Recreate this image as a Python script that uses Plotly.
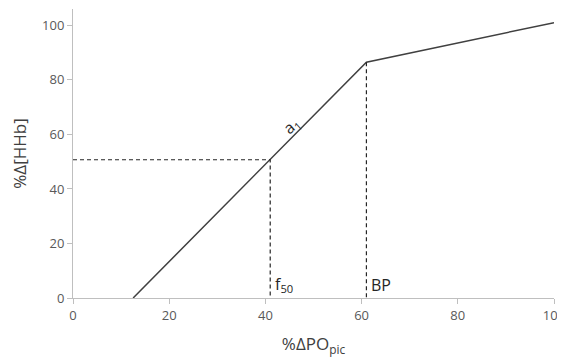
import plotly.graph_objects as go

# Piecewise-linear model
line_x = [12.5, 61, 100]
line_y = [0, 86.5, 101]

# Reference points
f50_x, f50_y = 41, 50.7
bp_x, bp_y = 61, 86.5

x_ticks = [0, 20, 40, 60, 80, 100]
y_ticks = [0, 20, 40, 60, 80, 100]

fig = go.Figure()
fig.add_trace(go.Scatter(x=line_x, y=line_y, mode="lines",
                         line=dict(color="#404040", width=1.5), hoverinfo="skip"))
# dashed guides
fig.add_trace(go.Scatter(x=[0, f50_x, f50_x], y=[f50_y, f50_y, 0], mode="lines",
                         line=dict(color="#262626", width=1.2, dash="4px,3px"), hoverinfo="skip"))
fig.add_trace(go.Scatter(x=[bp_x, bp_x], y=[bp_y, 0], mode="lines",
                         line=dict(color="#262626", width=1.2, dash="4px,3px"), hoverinfo="skip"))

font_fam = "Open Sans, Liberation Sans, sans-serif"
fig.add_annotation(x=f50_x + 0.6, y=0, text="f<sub>50</sub>", showarrow=False,
                   xanchor="left", yanchor="bottom", yshift=0,
                   font=dict(size=16, color="#262626", family=font_fam))
fig.add_annotation(x=bp_x + 0.6, y=0, text="BP", showarrow=False,
                   xanchor="left", yanchor="bottom", yshift=0,
                   font=dict(size=16, color="#262626", family=font_fam))
fig.add_annotation(x=45.5, y=63.2, text="a<sub>1</sub>", showarrow=False,
                   textangle=-42, xanchor="center", yanchor="middle",
                   font=dict(size=16, color="#262626", family=font_fam))

# note: page body adds an 8px offset, margins compensate
fig.update_layout(
    width=565, height=358,
    margin=dict(l=65, r=19, t=1, b=68, autoexpand=False),
    paper_bgcolor="white", plot_bgcolor="white",
    showlegend=False,
    font=dict(family=font_fam, color="#595959"),
    xaxis=dict(range=[0, 100], tickvals=x_ticks, showgrid=False, zeroline=False,
               automargin=False,
               showline=True, linecolor="#bfbfbf", linewidth=1,
               ticks="outside", ticklen=5, tickcolor="#bfbfbf",
               tickfont=dict(size=13, color="#595959"),
               title=dict(text="%ΔPO<sub>pic</sub>", standoff=15,
                          font=dict(size=17, color="#404040"))),
    yaxis=dict(range=[0, 106], tickvals=y_ticks, showgrid=False, zeroline=False,
               automargin=False,
               showline=True, linecolor="#bfbfbf", linewidth=1,
               ticks="outside", ticklen=5, tickcolor="#bfbfbf",
               tickfont=dict(size=13, color="#595959"),
               title=dict(text="%Δ[HHb]", standoff=12,
                          font=dict(size=17, color="#404040"))),
)

fig.write_html("out.html")
